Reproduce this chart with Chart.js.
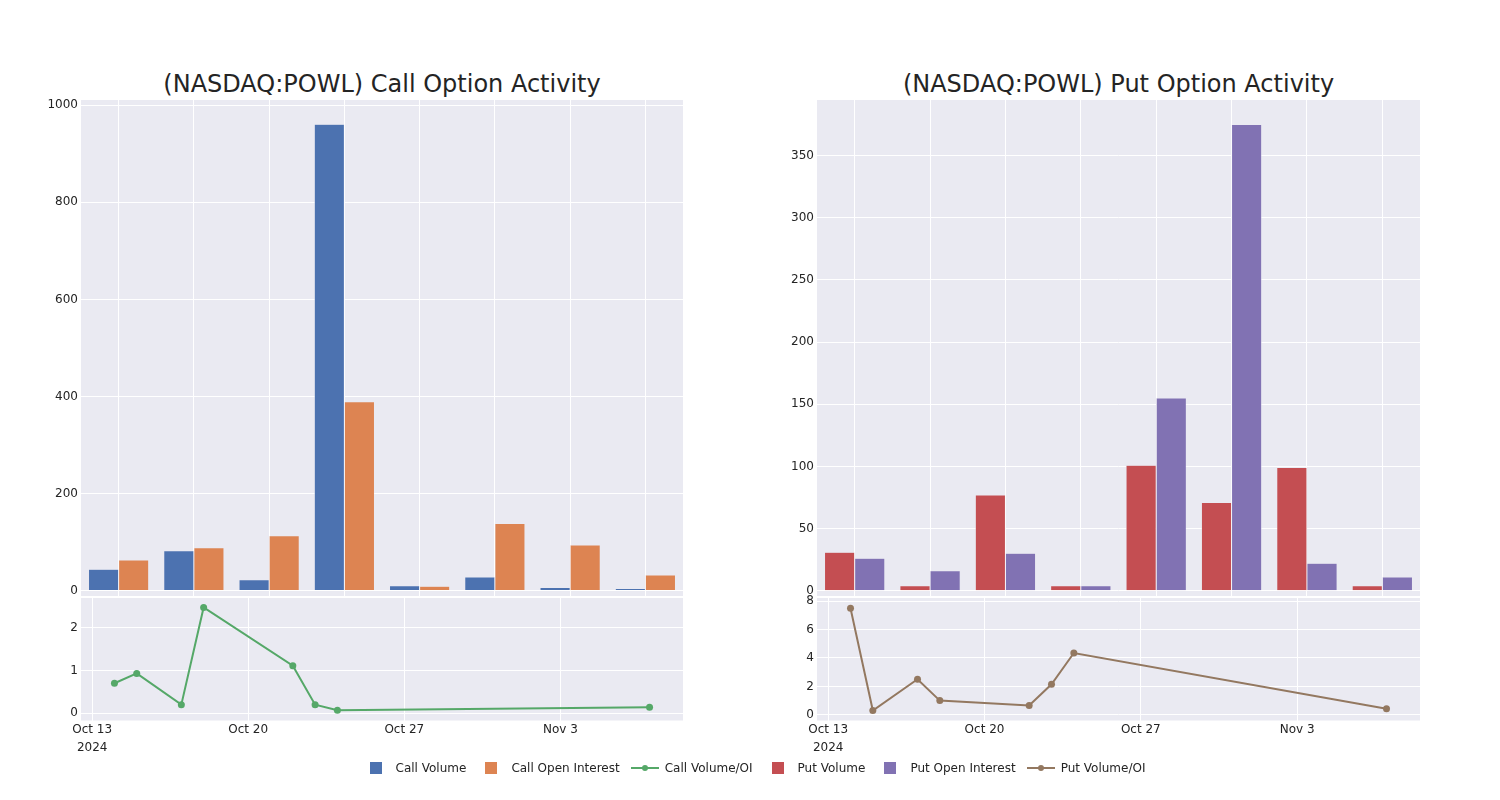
<!DOCTYPE html>
<html><head><meta charset="utf-8">
<script src="https://cdn.jsdelivr.net/npm/chart.js@4.4.1/dist/chart.umd.min.js"></script>
<style>
html,body{margin:0;padding:0;background:#fff}
body{width:1500px;height:800px;position:relative;overflow:hidden;font-family:"DejaVu Sans",sans-serif;color:rgb(36,36,36)}
canvas{position:absolute}
.title{position:absolute;font-size:24px;white-space:nowrap;transform:translate(-50%,-50%);line-height:1}
#legend{position:absolute;left:3px;width:1500px;top:760px;height:16px;display:flex;justify-content:center;align-items:center;font-size:12px;line-height:1}
.item{display:flex;align-items:center;margin-right:5px}
.sym{width:40px;height:14px;position:relative;flex:none}
.sq{position:absolute;left:14px;top:1px;width:12px;height:12px}
.ln{position:absolute;left:6px;top:6px;width:28px;height:2px}
.dot{position:absolute;left:17px;top:4px;width:6px;height:6px;border-radius:50%}
</style>
</head><body>
<div class="title" id="t1" style="left:382px;top:84px">(NASDAQ:POWL) Call Option Activity</div>
<div class="title" id="t2" style="left:1118.5px;top:84px">(NASDAQ:POWL) Put Option Activity</div>
<canvas id="c1"></canvas><canvas id="c2"></canvas><canvas id="c3"></canvas><canvas id="c4"></canvas>
<div id="legend"></div>
<script>
// ---- data ----
const dates = ['2024-10-14','2024-10-15','2024-10-17','2024-10-18','2024-10-22','2024-10-23','2024-10-24','2024-11-07'];
const callVolume = [44, 82, 22, 961, 10, 28, 6, 4];
const callOpenInterest = [63, 88, 113, 389, 9, 138, 94, 32];
const callVolumeOI = [0.70, 0.93, 0.20, 2.47, 1.11, 0.20, 0.07, 0.14];
const putVolume = [31, 4, 77, 4, 101, 71, 99, 4];
const putOpenInterest = [26, 16, 30, 4, 155, 375, 22, 11];
const putVolumeOI = [7.5, 0.3, 2.5, 1.0, 0.65, 2.15, 4.35, 0.42];
const callBarTicks = [0, 200, 400, 600, 800, 1000];
const putBarTicks = [0, 50, 100, 150, 200, 250, 300, 350];
const callRatioTicks = [0, 1, 2];
const putRatioTicks = [0, 2, 4, 6, 8];
const dateTicks = ['2024-10-13','2024-10-20','2024-10-27','2024-11-03'];
const dateTickLabels = [['Oct 13','2024'], 'Oct 20', 'Oct 27', 'Nov 3'];
const seriesNames = ['Call Volume','Call Open Interest','Call Volume/OI','Put Volume','Put Open Interest','Put Volume/OI'];
const colors = {
  callVolume:'rgb(76,114,176)', callOI:'rgb(221,132,82)', callRatio:'rgb(85,168,104)',
  putVolume:'rgb(196,78,82)', putOI:'rgb(129,114,179)', putRatio:'rgb(147,120,96)'
};

// ---- helpers ----
const TXT = 'rgb(36,36,36)';
const FONT = {family:'"DejaVu Sans", sans-serif', size:12};
const BG = 'rgb(234,234,242)';
const toT = d => Date.parse(d + 'T00:00:00Z');
const DAY = 86400000;
const dateMin = toT('2024-10-13') - DAY/2;
const dateMax = toT('2024-11-08') + DAY/2;

const bgPlugin = {
  id:'plotbg',
  beforeDraw(chart){
    const a = chart.chartArea, c = chart.ctx;
    c.save(); c.fillStyle = BG; c.fillRect(a.left, a.top, a.right-a.left, a.bottom-a.top); c.restore();
  }
};

const Y_W = 81, PAD_T = 20, PAD_R = 20, PAD_B = 14;
function place(id, x0, y0, x1, y1, xAxisH){
  const cv = document.getElementById(id);
  const w = Math.round((x1-x0) + Y_W + PAD_R);
  const h = Math.round(PAD_T + (y1-y0) + xAxisH + PAD_B);
  cv.width = w; cv.height = h;
  cv.style.left = (x0 - Y_W) + 'px';
  cv.style.top = (y0 - PAD_T) + 'px';
  cv.style.width = w + 'px'; cv.style.height = h + 'px';
  return {cv, padBottom: h - PAD_T - (y1-y0) - xAxisH};
}

function yScale(min, max, ticks){
  return {
    type:'linear', position:'left', min, max,
    afterBuildTicks: s => { s.ticks = ticks.map(v => ({value:v})); },
    afterFit: s => { s.width = Y_W; },
    ticks:{font:FONT, color:TXT, padding:3, callback: v => String(v)},
    grid:{color:'#ffffff', lineWidth:1, drawTicks:false},
    border:{display:false}
  };
}

function barChart(id, x0, y0, x1, y1, vol, oi, cVol, cOI, nVol, nOI, yMin, yMax, ticks){
  const p = place(id, x0, y0, x1, y1, 0);
  return new Chart(p.cv, {
    type:'bar',
    data:{labels:dates, datasets:[
      {label:nVol, data:vol, backgroundColor:cVol, borderColor:BG, borderWidth:0.5, categoryPercentage:0.8, barPercentage:1},
      {label:nOI, data:oi, backgroundColor:cOI, borderColor:BG, borderWidth:0.5, categoryPercentage:0.8, barPercentage:1}
    ]},
    options:{
      responsive:false, animation:false, devicePixelRatio:1,
      layout:{autoPadding:false, padding:{left:0, top:PAD_T, right:PAD_R, bottom:p.padBottom}},
      plugins:{legend:{display:false}, tooltip:{enabled:false}},
      scales:{
        x:{type:'category', offset:true, afterFit: s => { s.height = 0; },
           grid:{offset:false, color:'#ffffff', lineWidth:1, drawTicks:false},
           ticks:{display:false}, border:{display:false}},
        y:yScale(yMin, yMax, ticks)
      }
    },
    plugins:[bgPlugin]
  });
}

function lineChart(id, x0, y0, x1, y1, vals, col, name, yMin, yMax, ticks){
  const p = place(id, x0, y0, x1, y1, 40);
  const tickVals = dateTicks.map(toT);
  return new Chart(p.cv, {
    type:'scatter',
    data:{datasets:[{label:name, data:dates.map((d,i)=>({x:toT(d), y:vals[i]})),
      showLine:true, borderColor:col, backgroundColor:col, borderWidth:2,
      pointRadius:3.5, pointBorderWidth:0, pointBackgroundColor:col}]},
    options:{
      responsive:false, animation:false, devicePixelRatio:1,
      layout:{autoPadding:false, padding:{left:0, top:PAD_T, right:PAD_R, bottom:p.padBottom}},
      plugins:{legend:{display:false}, tooltip:{enabled:false}},
      scales:{
        x:{type:'linear', position:'bottom', min:dateMin, max:dateMax,
           afterBuildTicks: s => { s.ticks = tickVals.map(v => ({value:v})); },
           afterFit: s => { s.height = 40; },
           ticks:{font:Object.assign({}, FONT, {lineHeight:1.45}), color:TXT, padding:1, maxRotation:0, autoSkip:false,
                  callback: v => dateTickLabels[tickVals.indexOf(v)]},
           grid:{color:'#ffffff', lineWidth:1, drawTicks:false}, border:{display:false}},
        y:yScale(yMin, yMax, ticks)
      }
    },
    plugins:[bgPlugin]
  });
}

barChart('c1', 81, 100, 683, 596, callVolume, callOpenInterest, colors.callVolume, colors.callOI, seriesNames[0], seriesNames[1], -11.3, 1011, callBarTicks);
barChart('c2', 817, 100, 1420, 596, putVolume, putOpenInterest, colors.putVolume, colors.putOI, seriesNames[3], seriesNames[4], -4.3, 394.8, putBarTicks);
lineChart('c3', 81, 597.5, 683, 720, callVolumeOI, colors.callRatio, seriesNames[2], -0.17, 2.69, callRatioTicks);
lineChart('c4', 817, 597.5, 1420, 720, putVolumeOI, colors.putRatio, seriesNames[5], -0.4, 8.22, putRatioTicks);

// ---- legend ----
const legendItems = [
  {name:seriesNames[0], color:colors.callVolume, kind:'sq'},
  {name:seriesNames[1], color:colors.callOI, kind:'sq'},
  {name:seriesNames[2], color:colors.callRatio, kind:'ln'},
  {name:seriesNames[3], color:colors.putVolume, kind:'sq'},
  {name:seriesNames[4], color:colors.putOI, kind:'sq'},
  {name:seriesNames[5], color:colors.putRatio, kind:'ln'}
];
const lg = document.getElementById('legend');
legendItems.forEach(it => {
  const d = document.createElement('div'); d.className = 'item';
  const s = document.createElement('div'); s.className = 'sym';
  if (it.kind === 'sq') { s.innerHTML = '<div class="sq" style="background:'+it.color+'"></div>'; }
  else { s.innerHTML = '<div class="ln" style="background:'+it.color+'"></div><div class="dot" style="background:'+it.color+'"></div>'; }
  const t = document.createElement('span'); t.textContent = it.name;
  d.appendChild(s); d.appendChild(t); lg.appendChild(d);
});
</script>
</body></html>
